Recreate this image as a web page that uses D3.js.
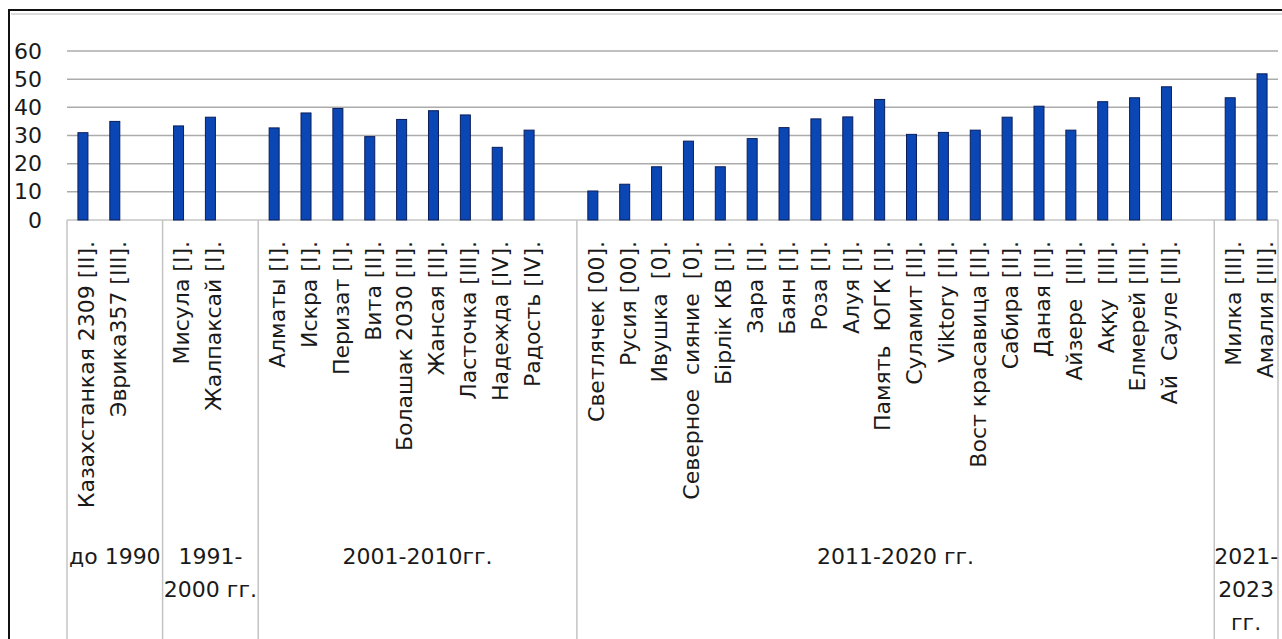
<!DOCTYPE html>
<html>
<head>
<meta charset="utf-8">
<script src="https://cdn.jsdelivr.net/npm/d3@7"></script>
<style>
  body { margin: 0; background: #fff; }
  text { font-family: "DejaVu Sans", sans-serif; fill: #1a1a1a; }
</style>
</head>
<body>
<script>
// periods (lower level of the category axis)
const periodLabels = [
  ["до 1990"],
  ["1991-", "2000 гг."],
  ["2001-2010гг."],
  ["2011-2020 гг."],
  ["2021-", "2023", "гг."],
];

// varieties and values per period
const names1 = ["Казахстанкая 2309 [II].", "Эврика357 [III]."];
const values1 = [31, 35];

const names2 = ["Мисула [I].", "Жалпаксай [I]."];
const values2 = [33.4, 36.5];

const names3 = [
  "Алматы [I].", "Искра [I].", "Перизат [I].", "Вита [II].", "Болашак 2030 [II].",
  "Жансая [II].", "Ласточка [III].", "Надежда [IV].", "Радость [IV].",
];
const values3 = [32.7, 38, 39.6, 29.6, 35.7, 38.8, 37.3, 25.8, 31.9];

const names4 = [
  "Светлячек [00].", "Русия [00].", "Ивушка  [0].", "Северное  сияние  [0].", "Бірлік КВ [I].",
  "Зара [I].", "Баян [I].", "Роза [I].", "Алуя [I].", "Память  ЮГК [I].",
  "Суламит [II].", "Viktory [II].", "Вост красавица [II].", "Сабира [II].", "Даная [II].",
  "Айзере  [III].", "Аққу  [III].", "Елмерей [III].", "Ай  Сауле [III].",
];
const values4 = [
  10.3, 12.7, 18.9, 28, 18.9, 28.9, 32.8, 35.9, 36.6, 42.8,
  30.4, 31.1, 31.9, 36.5, 40.4, 31.9, 42, 43.4, 47.3,
];

const names5 = ["Милка [III].", "Амалия [III]."];
const values5 = [43.4, 51.9];

const yTicks = [0, 10, 20, 30, 40, 50, 60];

// build the category list; Excel leaves one blank slot after each period but the last
const groupNames = [names1, names2, names3, names4, names5];
const groupValues = [values1, values2, values3, values4, values5];
const cats = [];
const groups = [];
groupNames.forEach((names, g) => {
  const start = cats.length;
  names.forEach((n, i) => cats.push({ id: `c${cats.length}`, name: n, value: groupValues[g][i] }));
  if (g < groupNames.length - 1) cats.push({ id: `c${cats.length}`, name: "", value: null });
  groups.push({ first: cats[start].id, last: cats[cats.length - 1].id, lines: periodLabels[g] });
});

const width = 1282;
const height = 639;

const svg = d3.select("body").append("svg").attr("width", width).attr("height", height);

const x = d3.scaleBand().domain(cats.map((d) => d.id)).range([67, 1278]).padding(0);
const y = d3.scaleLinear().domain([0, 60]).range([220, 51]);

// frame
svg.append("line").attr("x1", 9).attr("x2", width).attr("y1", 10).attr("y2", 10)
  .attr("stroke", "#111").attr("stroke-width", 2);
svg.append("line").attr("x1", 11).attr("x2", width).attr("y1", 14).attr("y2", 14)
  .attr("stroke", "#cfcfcf").attr("stroke-width", 1.5);
svg.append("line").attr("x1", 9).attr("x2", 9).attr("y1", 9).attr("y2", height)
  .attr("stroke", "#111").attr("stroke-width", 2);

// gridlines
svg.append("g").attr("id", "grid")
  .selectAll("line")
  .data(yTicks.filter((t) => t > 0))
  .join("line")
  .attr("x1", 67).attr("x2", 1278)
  .attr("y1", (d) => y(d)).attr("y2", (d) => y(d))
  .attr("stroke", "#ababab").attr("stroke-width", 1.5);

// y axis labels
const yAxis = d3.axisLeft(y).tickValues(yTicks).tickSize(0).tickPadding(0);
const yG = svg.append("g").attr("transform", "translate(42,0)").call(yAxis);
yG.select(".domain").remove();
yG.selectAll("text")
  .style("font-family", "DejaVu Sans")
  .style("font-size", "22px")
  .attr("fill", "#1a1a1a");

// category axis line
svg.append("line").attr("x1", 67).attr("x2", 1278).attr("y1", y(0)).attr("y2", y(0))
  .attr("stroke", "#c4c4c4").attr("stroke-width", 1.5);

// group separators
const seps = [x(groups[0].first)].concat(groups.map((g) => x(g.last) + x.bandwidth()));
svg.append("g").attr("id", "separators")
  .selectAll("line")
  .data(seps)
  .join("line")
  .attr("x1", (d) => d).attr("x2", (d) => d)
  .attr("y1", y(0)).attr("y2", height)
  .attr("stroke", "#c4c4c4").attr("stroke-width", 1.5);

// bars
const barW = 10;
svg.append("g").attr("id", "bars")
  .selectAll("rect")
  .data(cats.filter((d) => d.value != null))
  .join("rect")
  .attr("x", (d) => x(d.id) + x.bandwidth() / 2 - barW / 2)
  .attr("y", (d) => y(d.value))
  .attr("width", barW)
  .attr("height", (d) => y(0) - y(d.value))
  .attr("fill", "#0a47b4")
  .attr("stroke", "#0b1d5a")
  .attr("stroke-width", 1);

// category labels
svg.append("g").attr("id", "cat-labels")
  .selectAll("text")
  .data(cats.filter((d) => d.name))
  .join("text")
  .attr("transform", (d) => `translate(${x(d.id) + x.bandwidth() / 2 + 2}, 241) rotate(-90)`)
  .attr("text-anchor", "end")
  .attr("dy", "0.4em")
  .style("font-size", "22px")
  .style("white-space", "pre")
  .text((d) => d.name);

// period labels
const pl = svg.append("g").attr("id", "period-labels");
groups.forEach((g) => {
  const cx = (x(g.first) + x(g.last) + x.bandwidth()) / 2;
  g.lines.forEach((line, i) => {
    pl.append("text")
      .attr("x", cx)
      .attr("y", 564 + i * 33)
      .attr("text-anchor", "middle")
      .style("font-size", "22px")
      .text(line);
  });
});
</script>
</body>
</html>
